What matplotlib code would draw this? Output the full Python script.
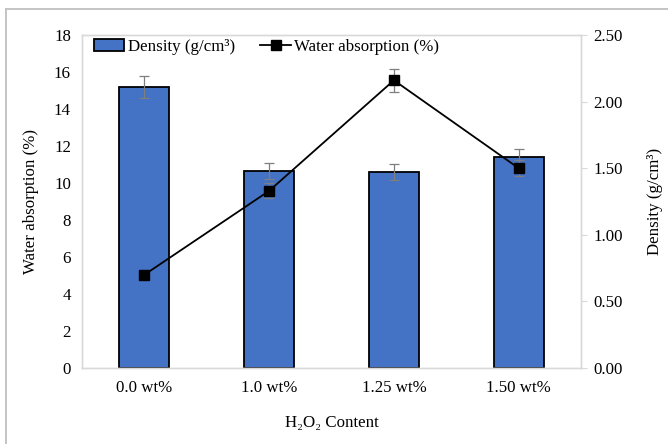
import matplotlib
matplotlib.use('Agg')
import matplotlib.pyplot as plt
from matplotlib.lines import Line2D
import numpy as np

plt.rcParams['font.family'] = ['Liberation Serif', 'DejaVu Serif']
plt.rcParams['font.size'] = 12.2

categories = ['0.0 wt%', '1.0 wt%', '1.25 wt%', '1.50 wt%']
density = [15.2, 10.65, 10.6, 11.42]
density_err = [0.6, 0.42, 0.43, 0.44]
absorption = [0.70, 1.33, 2.16, 1.50]
absorption_err = [0.0, 0.056, 0.088, 0.06]

x = np.arange(len(categories))
grey = '#d9d9d9'
fs = 12.2

fig = plt.figure(figsize=(6.68, 4.44), dpi=100)
ax = fig.add_axes([0.1228, 0.1712, 0.747, 0.75])
ax2 = ax.twinx()

bars = ax.bar(x, density, width=0.4, color='#4472C4', edgecolor='black',
              linewidth=1.3, label='Density (g/cm³)', zorder=2)
ax.errorbar(x, density, yerr=density_err, fmt='none', ecolor='#7f7f7f',
            elinewidth=0.9, capsize=3.5, capthick=0.9, zorder=3)

ax2.errorbar(x, absorption, yerr=absorption_err, fmt='none', ecolor='#7f7f7f',
             elinewidth=0.9, capsize=3.5, capthick=0.9, zorder=3)
line, = ax2.plot(x, absorption, color='black', linewidth=1.3, marker='s',
                 markersize=6.5, label='Water absorption (%)', zorder=4)

ax.set_xlim(-0.5, 3.5)
ax.set_ylim(0, 18)
ax.set_yticks(np.arange(0, 19, 2))
ax2.set_ylim(0, 2.5)
ax2.set_yticks(np.arange(0, 2.51, 0.5))
ax2.set_yticklabels(['%.2f' % v for v in np.arange(0, 2.51, 0.5)])
ax.set_xticks(x)
ax.set_xticklabels(categories)

for a in (ax, ax2):
    for s in a.spines.values():
        s.set_color(grey)
        s.set_linewidth(1.0)
ax.tick_params(axis='x', length=0, pad=9, labelsize=fs)
ax.tick_params(axis='y', length=0, pad=8, labelsize=fs)
ax2.tick_params(axis='y', length=4, color=grey, pad=5, labelsize=fs)

ax.set_ylabel('Water absorption (%)', fontsize=fs, labelpad=11)
ax2.set_ylabel('Density (g/cm³)', fontsize=fs, labelpad=17)
ax.set_xlabel('H₂O₂ Content', fontsize=fs, labelpad=13)

ax.legend([bars, line], ['Density (g/cm³)', 'Water absorption (%)'],
          loc='upper left', bbox_to_anchor=(0.0, 1.025), ncol=2, frameon=False,
          fontsize=fs, handlelength=1.8, handletextpad=0.2, columnspacing=1.5,
          borderaxespad=0.3)

# outer frame of the chart area
fig.add_artist(Line2D([5.5 / 668, 5.5 / 668], [0, 1 - 9.5 / 444],
                      transform=fig.transFigure, color='#bfbfbf', linewidth=1.3))
fig.add_artist(Line2D([5.5 / 668, 1], [1 - 9.5 / 444, 1 - 9.5 / 444],
                      transform=fig.transFigure, color='#bfbfbf', linewidth=1.3))

fig.savefig('out.png', dpi=100)
